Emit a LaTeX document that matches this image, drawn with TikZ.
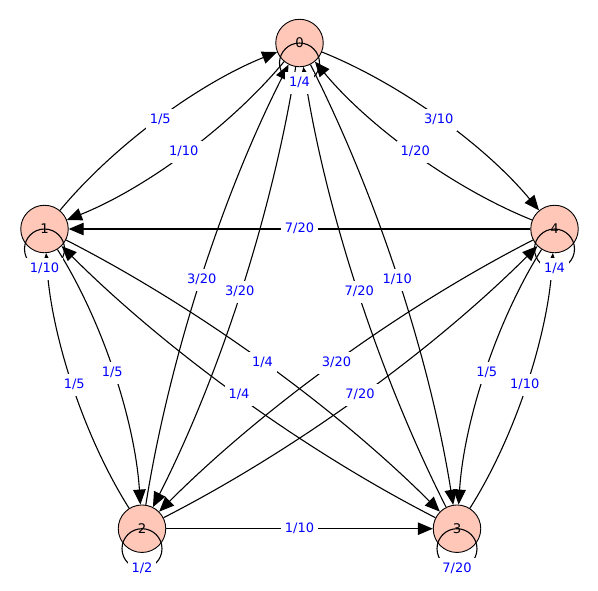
\documentclass[tikz,border=0pt]{standalone}
\usepackage{fontspec}
\setmainfont{DejaVu Sans}
\usetikzlibrary{calc,arrows.meta}
\definecolor{vfill}{HTML}{FEC7B8}
\newcommand\bentedge[4]{%
  \coordinate (#4) at ($(#1)!0.5!(#2)!20pt!#3:(#2)$);
  \coordinate (#4c) at ($(#1)!0.5!(#2)!40pt!#3:(#2)$);
  \draw[edge] (#1) .. controls ($(#1)!2/3!(#4c)$) and ($(#2)!2/3!(#4c)$) .. (#2);
}
\begin{document}
\begin{tikzpicture}[x=1pt,y=1pt,
  vertex/.style={circle, draw=black, line width=0.9pt, fill=vfill, minimum size=47.5pt, inner sep=0pt, font=\fontsize{13.3}{15}\selectfont},
  edge/.style={draw=black, line width=1.1pt, -{Triangle[length=15pt,width=12.5pt]}},
  loopline/.style={draw=black, line width=1.1pt},
  elabel/.style={fill=white, text=blue, inner xsep=4pt, inner ysep=4.5pt, text height=10pt, text depth=3pt, font=\fontsize{13}{15}\selectfont}
]
\useasboundingbox (0,0) rectangle (598,-590);
\fill[white] (0,0) rectangle (598,-590);
% vertices
\node[vertex] (n0) at (299.5,-43) {0};
\node[vertex] (n1) at (44.5,-229) {1};
\node[vertex] (n2) at (142,-528.7) {2};
\node[vertex] (n3) at (457,-528.7) {3};
\node[vertex] (n4) at (554.5,-229) {4};
% curved edges
\bentedge{n1}{n0}{90}{lA}
\bentedge{n0}{n1}{90}{lB}
\bentedge{n0}{n4}{90}{lC}
\bentedge{n4}{n0}{90}{lD}
\bentedge{n2}{n0}{90}{lE}
\bentedge{n0}{n2}{90}{lF}
\bentedge{n3}{n0}{90}{lG}
\bentedge{n0}{n3}{90}{lH}
\bentedge{n2}{n1}{90}{lI}
\bentedge{n1}{n2}{90}{lJ}
\bentedge{n3}{n1}{90}{lK}
\bentedge{n1}{n3}{90}{lL}
\bentedge{n4}{n2}{-90}{lM}
\bentedge{n2}{n4}{-90}{lN}
\bentedge{n4}{n3}{-90}{lO}
\bentedge{n3}{n4}{-90}{lP}
% straight edges
\draw[edge] (n4) -- (n1);
\coordinate (lQ) at ($(n4)!0.5!(n1)$);
\draw[edge] (n2) -- (n3);
\coordinate (lR) at ($(n2)!0.5!(n3)$);
% loops
\foreach \v in {n0,n1,n2,n3,n4}{
  \draw[loopline] ($(\v)+(0,-20)$) circle[radius=20];
}
% edge labels
\node[elabel] (tA) at (lA) {1/5};
\node[elabel] (tB) at (lB) {1/10};
\node[elabel] (tC) at (lC) {3/10};
\node[elabel] (tD) at (lD) {1/20};
\node[elabel] (tE) at (lE) {3/20};
\node[elabel] (tF) at (lF) {3/20};
\node[elabel] (tG) at (lG) {7/20};
\node[elabel] (tH) at (lH) {1/10};
\node[elabel] (tI) at (lI) {1/5};
\node[elabel] (tJ) at (lJ) {1/5};
\node[elabel] (tK) at (lK) {1/4};
\node[elabel] (tL) at (lL) {1/4};
\node[elabel] (tM) at (lM) {3/20};
\node[elabel] (tN) at (lN) {7/20};
\node[elabel] (tO) at (lO) {1/5};
\node[elabel] (tP) at (lP) {1/10};
\node[elabel] (tQ) at (lQ) {7/20};
\node[elabel] (tR) at (lR) {1/10};
% loop labels
\node[elabel] (s0) at ($(n0)+(0,-40)$) {1/4};
\node[elabel] (s1) at ($(n1)+(0,-40)$) {1/10};
\node[elabel] (s2) at ($(n2)+(0,-40)$) {1/2};
\node[elabel] (s3) at ($(n3)+(0,-40)$) {7/20};
\node[elabel] (s4) at ($(n4)+(0,-40)$) {1/4};
\end{tikzpicture}
\end{document}
